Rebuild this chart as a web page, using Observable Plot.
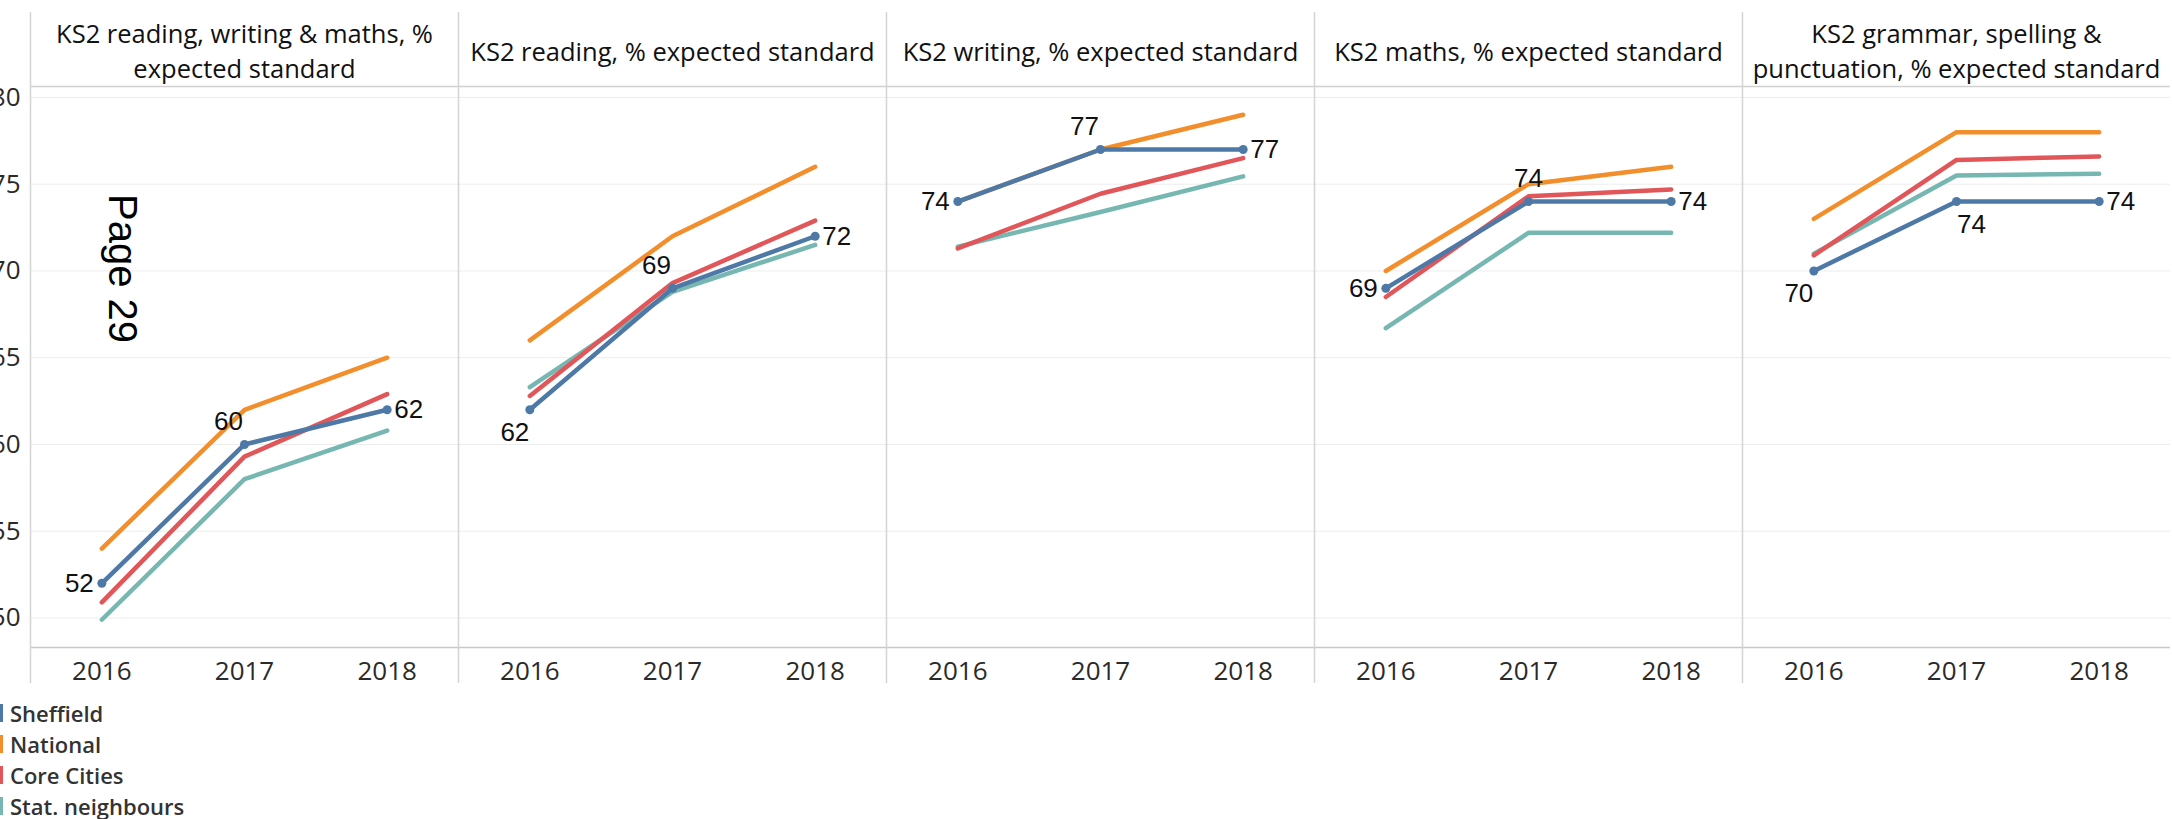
<!DOCTYPE html>
<html><head><meta charset="utf-8">
<script src="https://cdn.jsdelivr.net/npm/d3@7"></script>
<script src="https://cdn.jsdelivr.net/npm/@observablehq/plot@0.6"></script>
<style>
body{margin:0;background:#fff;overflow:hidden;font-family:"Open Sans",sans-serif;}
#legend{margin-top:10px;}
.item{display:flex;align-items:center;height:31px;font-size:22px;font-weight:600;color:#333;white-space:nowrap;}
.sw{width:10px;height:18px;margin-left:-7px;margin-right:7px;flex:none;}
</style></head><body><div id="chart"></div><div id="legend"></div>
<script>
const panels = ["rwm", "reading", "writing", "maths", "gps"];
const headers = [
  "KS2 reading, writing & maths, %\nexpected standard",
  "KS2 reading, % expected standard",
  "KS2 writing, % expected standard",
  "KS2 maths, % expected standard",
  "KS2 grammar, spelling &\npunctuation, % expected standard"
];
const years = [2016, 2017, 2018];
const series = ["Sheffield", "National", "Core Cities", "Stat. neighbours"];
const colors = ["#4e79a7", "#f28e2b", "#e15759", "#76b7b2"];
// values per panel: [2016, 2017, 2018]
const sheffield      = [[52, 60, 62], [62, 69, 72], [74, 77, 77], [69, 74, 74], [70, 74, 74]];
const national       = [[54, 62, 65], [66, 72, 76], [74, 77, 79], [70, 75, 76], [73, 78, 78]];
const coreCities     = [[50.9, 59.3, 62.9], [62.8, 69.3, 72.9], [71.3, 74.45, 76.5], [68.5, 74.3, 74.7], [70.9, 76.4, 76.6]];
const statNeighbours = [[49.9, 58, 60.8], [63.3, 68.8, 71.5], [71.4, 73.4, 75.45], [66.7, 72.2, 72.2], [71, 75.5, 75.6]];
const yTicks = [50, 55, 60, 65, 70, 75, 80];
const yDomain = [48.3, 80.63];
const xDomain = [2015.5, 2018.5];
const pageNote = {text: "Page 29", panel: "rwm", year: 2016, value: 70.14};

// label placement of Sheffield values, per panel per year
const labelPlace = [
  ["left", "aboveLeft", "right"],
  ["belowLeft", "aboveLeft", "right"],
  ["left", "aboveLeft", "right"],
  ["left", "above", "right"],
  ["belowLeft", "belowRight", "right"]
];
const placeStyle = {
  left: {textAnchor: "end", dx: -8, dy: 0},
  right: {textAnchor: "start", dx: 7, dy: 0},
  aboveLeft: {textAnchor: "middle", dx: -16, dy: -23},
  above: {textAnchor: "middle", dx: 0, dy: -23},
  belowLeft: {textAnchor: "middle", dx: -15, dy: 23},
  belowRight: {textAnchor: "middle", dx: 15, dy: 23}
};

const allSeries = [sheffield, national, coreCities, statNeighbours];
const drawOrder = [3, 2, 1, 0];
const rows = [];
drawOrder.forEach(k => panels.forEach((p, i) => years.forEach((yr, j) => {
  rows.push({panel: p, year: yr, series: series[k], value: allSeries[k][i][j], place: k === 0 ? labelPlace[i][j] : null});
})));
const sheffRows = rows.filter(d => d.series === "Sheffield");

const labelMarks = Object.entries(placeStyle).map(([name, s]) =>
  Plot.text(sheffRows.filter(d => d.place === name), {
    fx: "panel", x: "year", y: "value", text: d => String(d.value),
    textAnchor: s.textAnchor, dx: s.dx, dy: s.dy,
    fontSize: 26, fontFamily: "Liberation Sans", fill: "#111"
  })
);

const chart = Plot.plot({
  width: 2172, height: 687,
  marginLeft: 28, marginRight: 0, marginTop: 86, marginBottom: 40,
  style: {fontFamily: "Open Sans", fontSize: "26px", color: "#2a2a2a", background: "#fff"},
  fx: {domain: panels, padding: 0, axis: null},
  x: {type: "linear", domain: xDomain, ticks: years, tickFormat: "d", tickSize: 0, tickPadding: 14, label: null},
  y: {domain: yDomain, ticks: yTicks, tickSize: 0, tickPadding: 10, label: null},
  color: {domain: series, range: colors},
  marks: [
    Plot.ruleY(yTicks, {stroke: "#ededed", strokeWidth: 1}),
    Plot.ruleY([yDomain[1]], {stroke: "#d0d0d0", strokeWidth: 1.5}),
    Plot.ruleY([yDomain[0]], {stroke: "#c8c8c8", strokeWidth: 1.5}),
    Plot.ruleX([xDomain[0]], {stroke: "#d4d4d4", strokeWidth: 1.5, insetTop: -74, insetBottom: -36}),
    Plot.line(rows, {fx: "panel", x: "year", y: "value", z: "series", stroke: "series", strokeWidth: 4.5, strokeLinecap: "round", strokeLinejoin: "round"}),
    Plot.dot(sheffRows, {fx: "panel", x: "year", y: "value", fill: colors[0], r: 4.5}),
    ...labelMarks,
    Plot.text(panels, {fx: d => d, text: (d, i) => headers[i], frameAnchor: "top", dy: -37, lineAnchor: "middle", lineHeight: 1.38, fontSize: 25.5, fill: "#111"}),
    Plot.text([pageNote], {fx: "panel", x: "year", y: "value", text: "text", rotate: 90, fontSize: 40, fontFamily: "Liberation Sans", fill: "#000", dx: 20})
  ]
});
document.getElementById("chart").appendChild(chart);

const legend = d3.select("#legend");
series.forEach((s, i) => {
  const it = legend.append("div").attr("class", "item");
  it.append("div").attr("class", "sw").style("background", colors[i]);
  it.append("span").text(s);
});
</script></body></html>
